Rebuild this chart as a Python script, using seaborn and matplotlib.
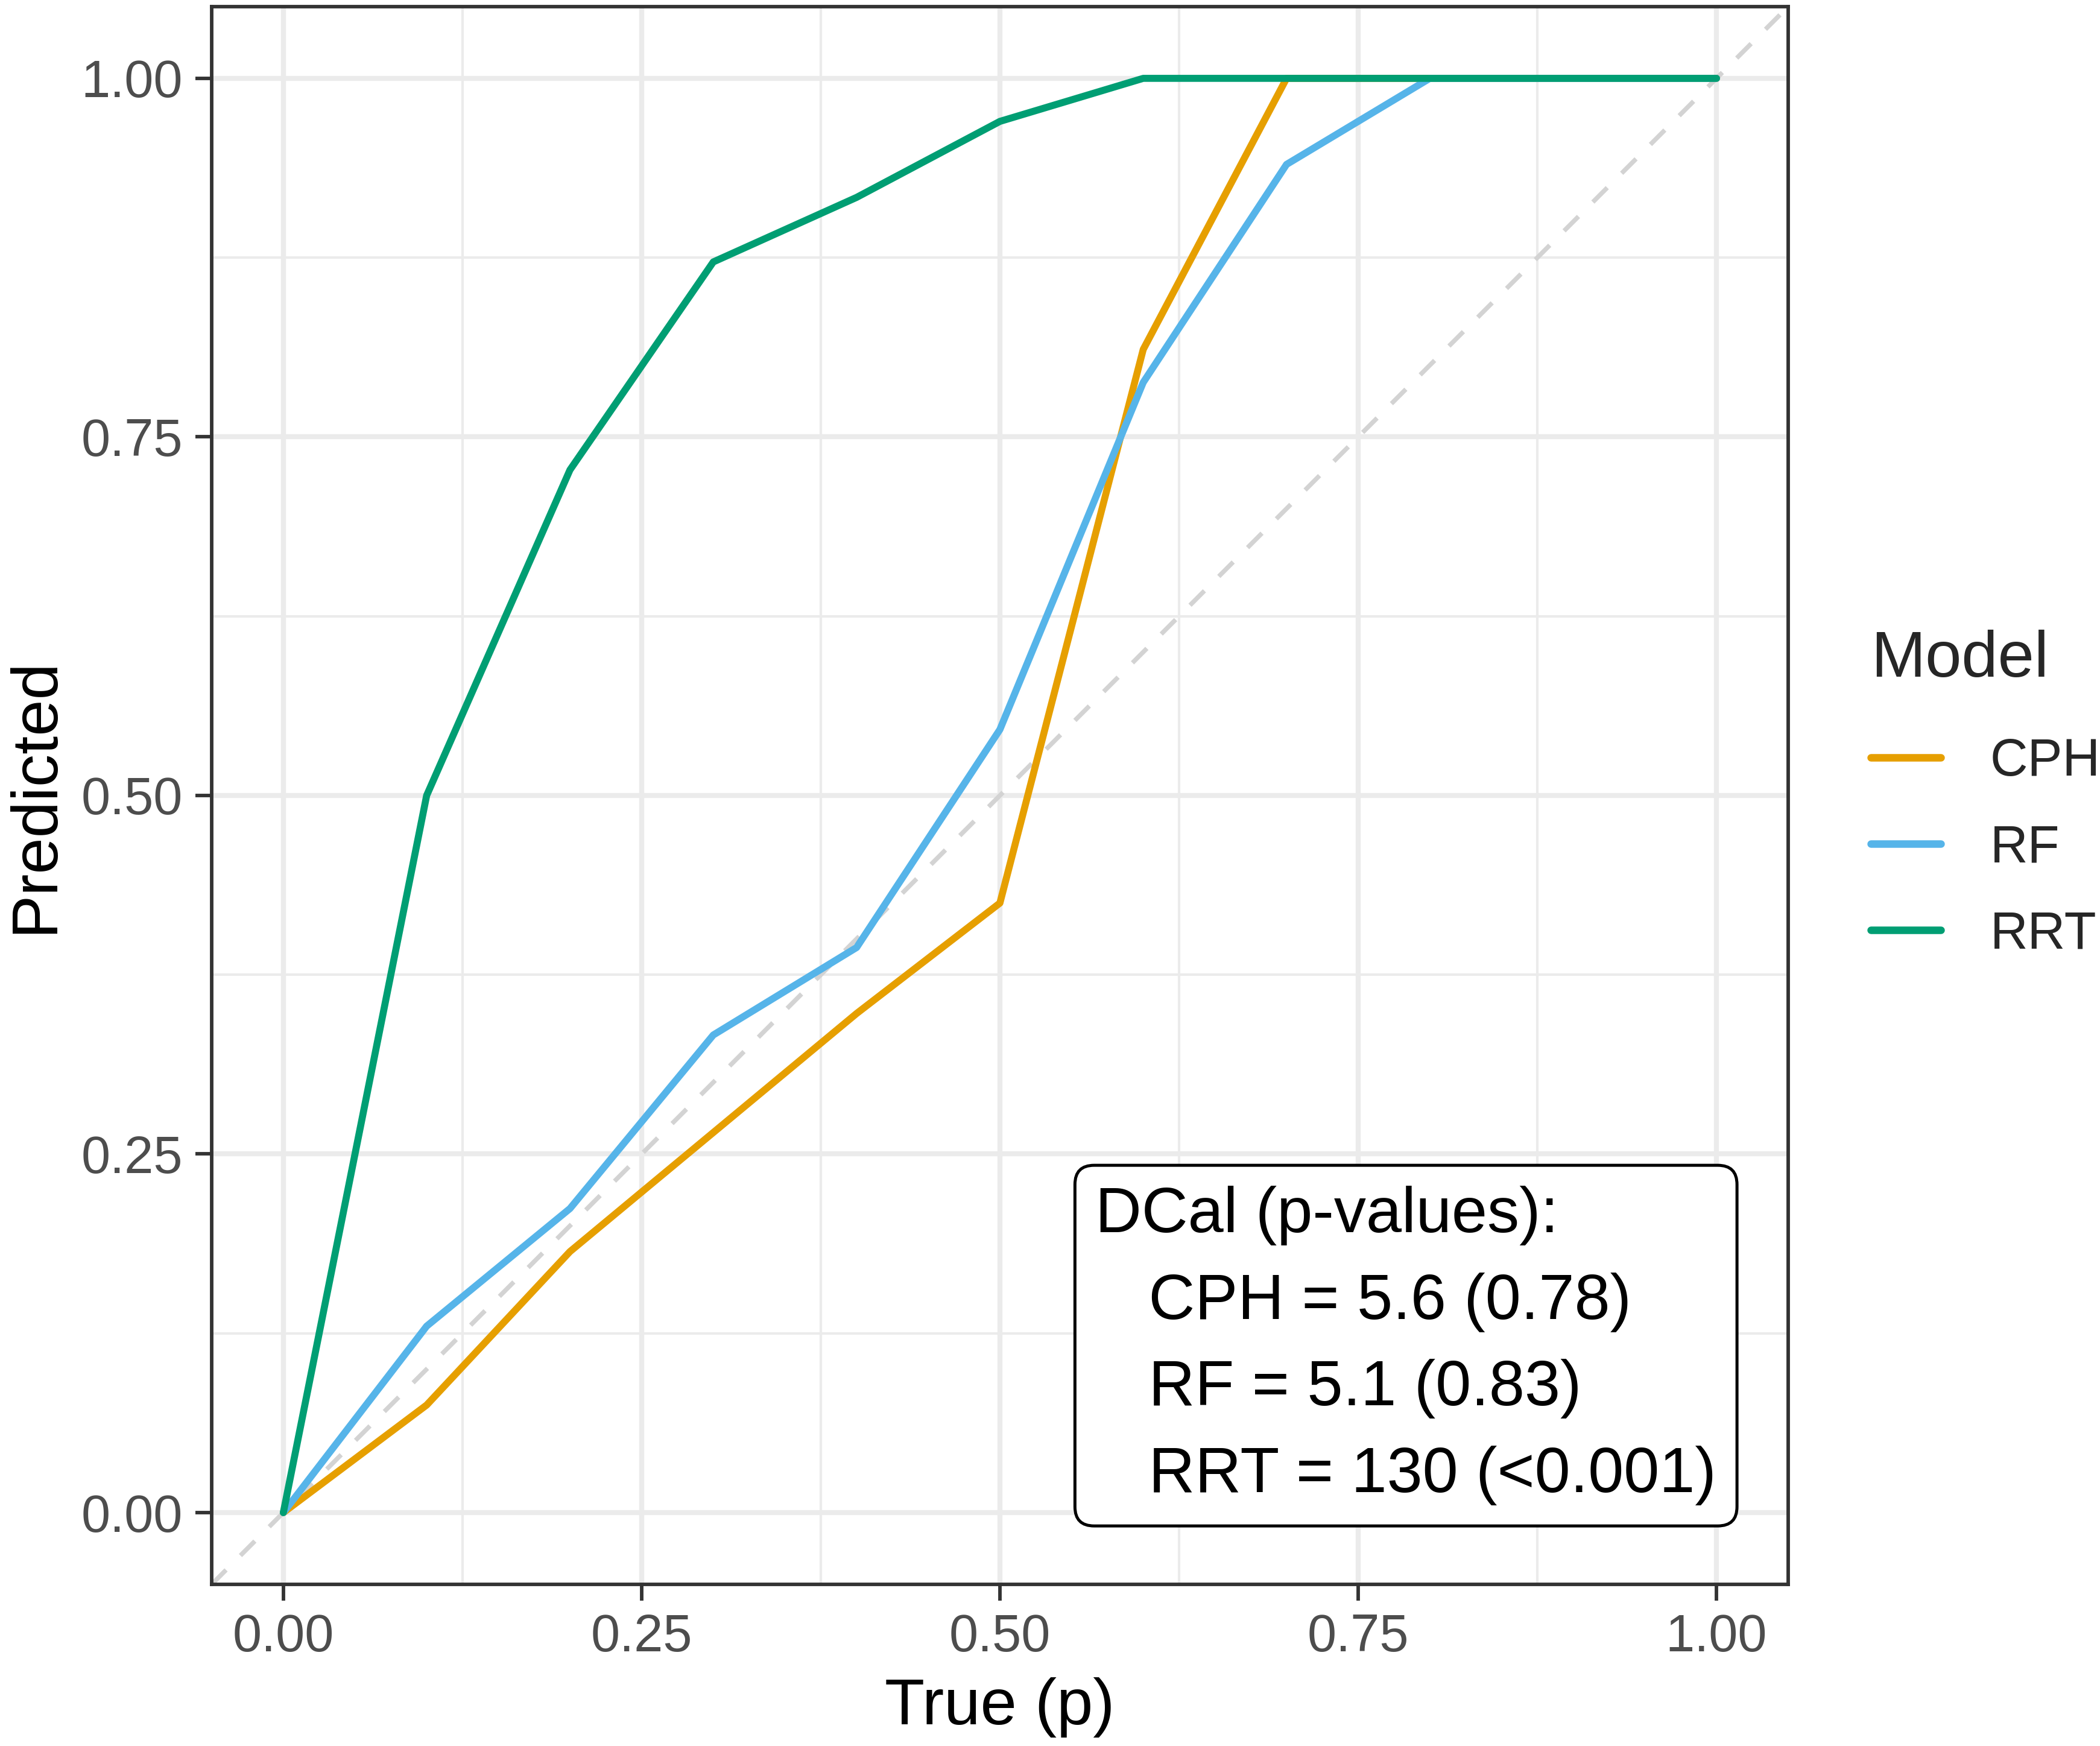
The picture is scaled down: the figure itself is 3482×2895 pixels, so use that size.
import numpy as np
import pandas as pd
import matplotlib.pyplot as plt
import seaborn as sns

# calibration curve values
true_p = [0.0, 0.1, 0.2, 0.3, 0.4, 0.5, 0.6, 0.7, 0.8, 0.9, 1.0]
cph = [0.0, 0.075, 0.182, 0.265, 0.348, 0.425, 0.811, 1.0, 1.0, 1.0, 1.0]
rf = [0.0, 0.130, 0.212, 0.333, 0.394, 0.546, 0.788, 0.940, 1.0, 1.0, 1.0]
rrt = [0.0, 0.500, 0.727, 0.872, 0.917, 0.970, 1.0, 1.0, 1.0, 1.0, 1.0]
models = ['CPH', 'RF', 'RRT']
colors = ['#E69F00', '#56B4E9', '#009E73']
ticks = [0.0, 0.25, 0.5, 0.75, 1.0]
minor_ticks = [0.125, 0.375, 0.625, 0.875]
dcal_text = 'DCal (p-values):\n   CPH = 5.6 (0.78)\n   RF = 5.1 (0.83)\n   RRT = 130 (<0.001)'

df = pd.DataFrame({
    'true': true_p * 3,
    'pred': cph + rf + rrt,
    'Model': np.repeat(models, len(true_p)),
})

sns.set_theme(style='white')
plt.rcParams['font.family'] = ['Liberation Sans', 'DejaVu Sans']

fig = plt.figure(figsize=(3482 / 300, 2895 / 300), dpi=300)
ax = fig.add_axes([0.1008, 0.0926, 0.8515 - 0.1008, 0.9962 - 0.0926])

# identity line underneath
ax.axline((0, 0), slope=1, color='#D3D3D3', lw=1.8, dashes=(4.5, 4.5), zorder=1.5)

sns.lineplot(data=df, x='true', y='pred', hue='Model', hue_order=models,
             palette=dict(zip(models, colors)), linewidth=2.8, ax=ax, zorder=3)

ax.set_xlim(-0.05, 1.05)
ax.set_ylim(-0.05, 1.05)
ax.set_xticks(ticks)
ax.set_yticks(ticks)
ax.set_xticks(minor_ticks, minor=True)
ax.set_yticks(minor_ticks, minor=True)
ax.set_xticklabels([f'{t:.2f}' for t in ticks])
ax.set_yticklabels([f'{t:.2f}' for t in ticks])
ax.grid(which='major', color='#EBEBEB', lw=2.0, zorder=0)
ax.grid(which='minor', color='#EBEBEB', lw=1.0, zorder=0)
ax.set_axisbelow(True)
ax.tick_params(which='major', length=6.5, width=1.4, color='#333333',
               labelsize=20.8, labelcolor='#4D4D4D', pad=5, bottom=True, left=True)
ax.tick_params(which='minor', length=0)
for s in ax.spines.values():
    s.set_color('#333333')
    s.set_linewidth(1.4)

ax.set_xlabel('True (p)', fontsize=26, color='black', labelpad=6)
ax.set_ylabel('Predicted', fontsize=26, color='black', labelpad=6)

ax.text(1.0, 0.005, dcal_text, transform=ax.transData, ha='right', va='bottom',
        multialignment='left', fontsize=25.5, color='black', linespacing=1.58,
        zorder=5,
        bbox=dict(boxstyle='round,pad=0.32,rounding_size=0.3', fc='white',
                  ec='black', lw=1.2))

handles, labels = ax.get_legend_handles_labels()
leg = ax.legend(handles, labels, title='Model', loc='center left',
                bbox_to_anchor=(0.891, 0.545), bbox_transform=fig.transFigure,
                frameon=False, fontsize=20.8, title_fontsize=26,
                handlelength=1.33, handletextpad=0.95, labelspacing=0.72,
                borderpad=0, borderaxespad=0, alignment='left')
leg._legend_box.sep = 19
for h in leg.get_lines():
    h.set_linewidth(3.0)

fig.savefig('out.png', dpi=300)
